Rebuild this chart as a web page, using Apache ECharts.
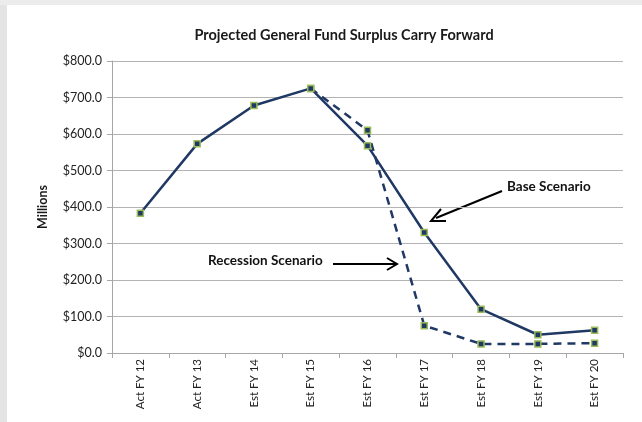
<!DOCTYPE html>
<html>
<head>
<meta charset="utf-8">
<script src="https://cdn.jsdelivr.net/npm/echarts@6/dist/echarts.min.js"></script>
<style>
html,body{margin:0;padding:0;background:#fff;}
#c{width:642px;height:422px;}
</style>
</head>
<body>
<div id="c"></div>
<script>
var categories = ["Act FY 12","Act FY 13","Est FY 14","Est FY 15","Est FY 16","Est FY 17","Est FY 18","Est FY 19","Est FY 20"];
var baseScenario = [383, 573, 678, 725, 568, 330, 120, 50, 62];
var recessionScenario = [null, null, null, 725, 610, 75, 25, 25, 27];
var yTicks = [0, 100, 200, 300, 400, 500, 600, 700, 800];

var FONT = "Lato, 'Open Sans', sans-serif";
var NAVY = "#1f3864";
var chart = echarts.init(document.getElementById('c'), null, {renderer:'canvas'});

function markerStyle(){
  return {color: NAVY, borderColor: "#9bbb59", borderWidth: 1.5};
}

chart.setOption({
  animation: false,
  backgroundColor: "#ffffff",
  title: {
    text: "Projected General Fund Surplus Carry Forward",
    left: 339, top: 23, textAlign: "center",
    textStyle: {fontFamily: FONT, fontSize: 14.5, fontWeight: "bold", color: "#1a1a1a"}
  },
  grid: {left: 112, right: 19, top: 61, bottom: 69, containLabel: false},
  xAxis: {
    type: "category",
    data: categories,
    boundaryGap: true,
    axisLine: {lineStyle: {color: "#a6a6a6", width: 1}},
    axisTick: {show: true, length: 5, lineStyle: {color: "#a6a6a6"}},
    axisLabel: {rotate: 90, fontFamily: FONT, fontSize: 11.5, color: "#222", margin: 6, interval: 0}
  },
  yAxis: {
    type: "value",
    min: yTicks[0], max: yTicks[yTicks.length-1], interval: 100,
    axisLine: {show: true, lineStyle: {color: "#a6a6a6", width: 1}},
    axisTick: {show: true, length: 5, lineStyle: {color: "#a6a6a6"}},
    splitLine: {lineStyle: {color: "#b3b3b3", width: 1}},
    axisLabel: {fontFamily: FONT, fontSize: 12.5, color: "#222", margin: 10,
      formatter: function(v){ return "$" + v.toFixed(1); }},
    name: "Millions",
    nameLocation: "middle",
    nameGap: 63,
    nameRotate: 90,
    nameTextStyle: {fontFamily: FONT, fontSize: 12.5, fontWeight: "bold", color: "#1a1a1a"}
  },
  series: [
    {
      name: "Recession Scenario",
      type: "line",
      data: recessionScenario,
      symbol: "rect", symbolSize: 6,
      lineStyle: {color: NAVY, width: 2.5, type: [8, 6]},
      itemStyle: markerStyle(),
      z: 2
    },
    {
      name: "Base Scenario",
      type: "line",
      data: baseScenario,
      symbol: "rect", symbolSize: 6,
      lineStyle: {color: NAVY, width: 2.5},
      itemStyle: markerStyle(),
      z: 3
    }
  ],
  graphic: [
    {type: "rect", shape: {x: 0, y: 0, width: 7, height: 422}, style: {fill: "#e4e4e4"}, silent: true},
    {type: "rect", shape: {x: 0, y: 0, width: 642, height: 5}, style: {fill: "#ececec"}, silent: true},
    {type: "text", left: 507, top: 180, style: {text: "Base Scenario", font: "bold 13.5px " + FONT, fill: "#111"}},
    {type: "line", shape: {x1: 502, y1: 191, x2: 436, y2: 218}, style: {stroke: "#000", lineWidth: 2}},
    {type: "polyline", shape: {points: [[441, 209], [431, 221], [446, 221]]}, style: {stroke: "#000", lineWidth: 2, fill: null}},
    {type: "text", left: 208, top: 254, style: {text: "Recession Scenario", font: "bold 13.5px " + FONT, fill: "#111"}},
    {type: "line", shape: {x1: 333, y1: 264, x2: 396, y2: 264}, style: {stroke: "#000", lineWidth: 2}},
    {type: "polyline", shape: {points: [[387, 258], [397, 264], [387, 270]]}, style: {stroke: "#000", lineWidth: 2, fill: null}}
  ]
});
</script>
</body>
</html>
